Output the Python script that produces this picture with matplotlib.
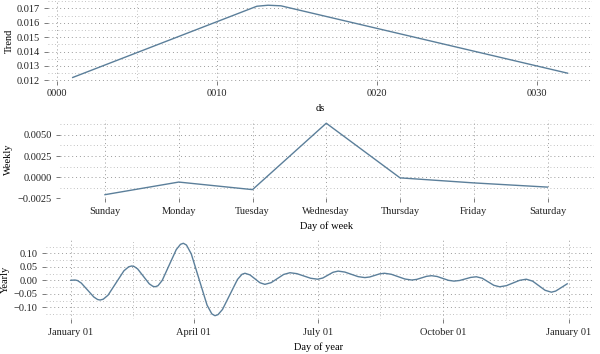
import matplotlib
matplotlib.use("Agg")
import matplotlib.pyplot as plt
import matplotlib.transforms as mtransforms
from matplotlib.ticker import FixedLocator, FuncFormatter

plt.rcParams['font.family'] = ['Liberation Serif', 'DejaVu Serif']
plt.rcParams['font.size'] = 7.5

# тренд
trend_x = [1, 12.5, 13.2, 14, 31.9]
trend_y = [0.0122, 0.01715, 0.01722, 0.01718, 0.01250]

# недельная компонента
days = ['Sunday', 'Monday', 'Tuesday', 'Wednesday', 'Thursday', 'Friday', 'Saturday']
weekly = [-0.0021, -0.0006, -0.0015, 0.0064, -0.0001, -0.0007, -0.0012]

# годовая компонента (день года, значение)
year_day = [0, 3, 4.85, 7.6, 12.25, 16.9, 19.65, 21.5, 23.8, 27.3, 33.1, 38.9, 42.4, 44.7,
            46.4, 49, 53.25, 57.5, 60.1, 61.8, 63.9, 67, 72.15, 77.3, 80.4, 82.5, 84.8,
            88.3, 94.1, 99.9, 103.4, 105.7, 107.9, 111.2, 116.7, 122.2, 125.5, 127.7,
            131.35, 135, 138.65, 142.3, 146.9, 151.5, 156.1, 160.7, 165.8, 170.85, 175.9,
            181, 184.75, 188.5, 192.25, 196, 200.9, 205.8, 210.7, 215.6, 219.2, 222.8,
            226.4, 230, 235, 240, 245, 250, 253.6, 257.25, 260.9, 264.5, 268.6, 272.75,
            276.9, 281, 285.1, 289.2, 293.3, 297.4, 301.7, 305.95, 310.2, 314.5, 319.4,
            324.25, 329.1, 334, 338.6, 343.2, 347.8, 352.4, 355.5, 358.7, 361.5, 364]
yearly = [0.000, 0.001, -0.0008, -0.010, -0.036, -0.062, -0.0712, -0.073, -0.0699, -0.055,
          -0.010, 0.035, 0.0499, 0.053, 0.0511, 0.042, 0.0145, -0.013, -0.0221, -0.024,
          -0.0201, -0.0005, 0.0565, 0.1135, 0.1331, 0.137, 0.1304, 0.098, 0.003, -0.092,
          -0.1244, -0.131, -0.1272, -0.108, -0.0525, 0.003, 0.0222, 0.026, 0.020, 0.0055,
          -0.009, -0.015, -0.0087, 0.0065, 0.0217, 0.028, 0.0245, 0.016, 0.0075, 0.004,
          0.0084, 0.019, 0.0296, 0.034, 0.0305, 0.022, 0.0135, 0.010, 0.0123, 0.018,
          0.0237, 0.026, 0.0223, 0.0135, 0.0047, 0.001, 0.0033, 0.009, 0.0147, 0.017,
          0.0141, 0.007, -0.0001, -0.003, -0.0007, 0.005, 0.0107, 0.013, 0.0076, -0.0055,
          -0.0186, -0.024, -0.0199, -0.010, -0.0001, 0.004, -0.003, -0.020, -0.037, -0.044,
          -0.040, -0.030, -0.021, -0.013]
month_ticks = [0, 90, 181, 273, 365]
month_labels = ['January 01', 'April 01', 'July 01', 'October 01', 'January 01']
month_minor = [45.5, 135.5, 227, 319]

line_c = '#5b7f9a'
grid_c = '#9a9a9a'

fig = plt.figure(figsize=(6, 3.54), dpi=100)


def style(ax, label_x):
    for s in ax.spines.values():
        s.set_visible(False)
    ax.grid(which='major', color=grid_c, ls=(0, (1, 3)), lw=0.7)
    ax.grid(which='minor', color=grid_c, ls=(0, (1, 3)), lw=0.6, alpha=0.8)
    ax.tick_params(which='major', length=3, width=0.6, color='#666666', pad=3,
                   labelcolor='#222222')
    ax.tick_params(which='minor', length=0)
    # подпись оси Y прижата к левому краю рисунка
    tr = mtransforms.blended_transform_factory(fig.transFigure, ax.transAxes)
    ax.yaxis.set_label_coords(label_x / 600, 0.5, transform=tr)


ax1 = fig.add_axes([0.08, 0.771, 0.907, 0.226])
ax1.plot(trend_x, trend_y, color=line_c, lw=1)
ax1.set_xticks([0, 10, 20, 30])
ax1.xaxis.set_major_formatter(FuncFormatter(lambda v, p: '%04d' % v))
ax1.xaxis.set_minor_locator(FixedLocator([5, 15, 25]))
ax1.set_yticks([0.012, 0.013, 0.014, 0.015, 0.016, 0.017])
ax1.yaxis.set_minor_locator(FixedLocator([0.0125, 0.0135, 0.0145, 0.0155, 0.0165, 0.0175]))
ax1.set_ylim(0.01195, 0.01751)
ax1.set_xlabel('ds')
ax1.set_ylabel('Trend')
style(ax1, 14)

ax2 = fig.add_axes([0.1, 0.44, 0.89, 0.222])
ax2.plot(range(len(days)), weekly, color=line_c, lw=1)
ax2.set_xticks(range(len(days)))
ax2.set_xticklabels(days)
ax2.set_xlim(-0.61, 6.63)
ax2.set_yticks([-0.0025, 0.0, 0.0025, 0.005])
ax2.yaxis.set_major_formatter(FuncFormatter(lambda v, p: ('%.4f' % v).replace('-', '\u2212')))
ax2.yaxis.set_minor_locator(FixedLocator([-0.00125, 0.00125, 0.00375, 0.00625]))
ax2.set_xlabel('Day of week')
ax2.set_ylabel('Weekly')
style(ax2, 13)

ax3 = fig.add_axes([0.0767, 0.098, 0.91, 0.225])
ax3.plot(year_day, yearly, color=line_c, lw=1)
ax3.set_xticks(month_ticks)
ax3.set_xticklabels(month_labels)
ax3.xaxis.set_minor_locator(FixedLocator(month_minor))
ax3.set_yticks([-0.10, -0.05, 0.0, 0.05, 0.10])
ax3.yaxis.set_major_formatter(FuncFormatter(lambda v, p: ('%.2f' % v).replace('-', '\u2212')))
ax3.yaxis.set_minor_locator(FixedLocator([-0.125, -0.075, -0.025, 0.025, 0.075, 0.125]))
ax3.set_xlabel('Day of year')
ax3.set_ylabel('Yearly')
style(ax3, 10)

fig.savefig('out.png', dpi=100)
